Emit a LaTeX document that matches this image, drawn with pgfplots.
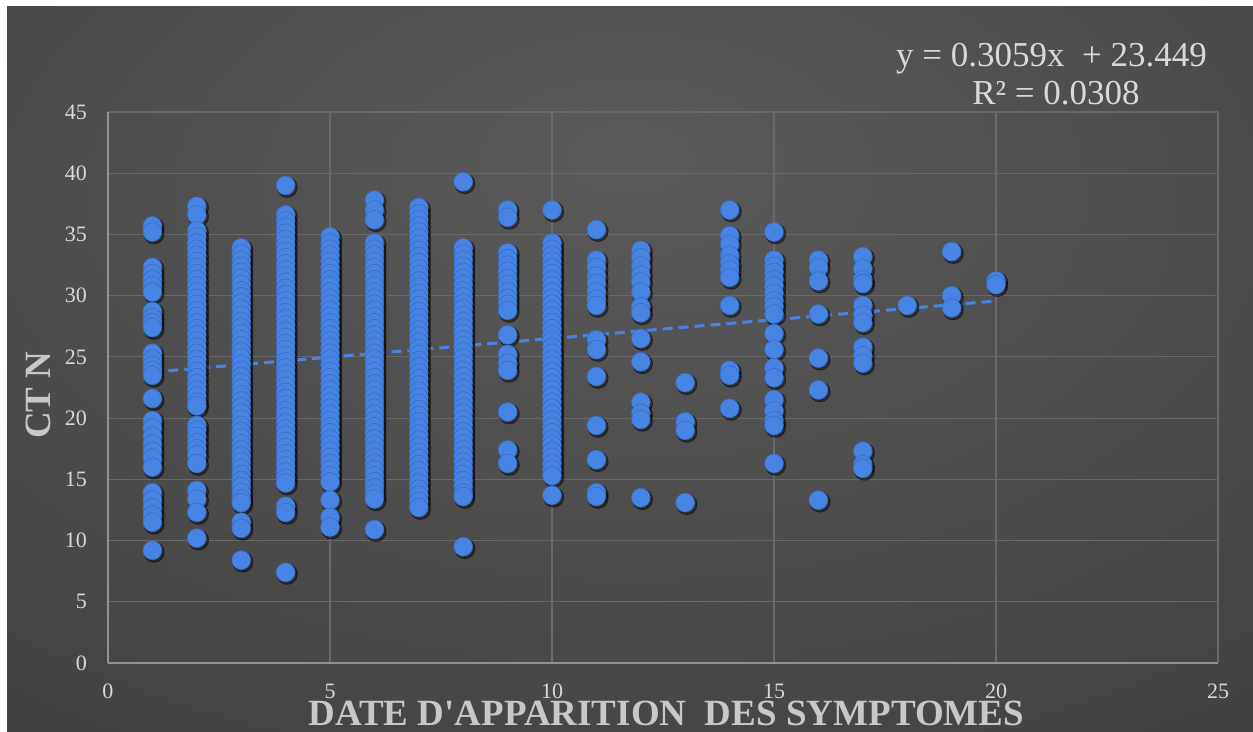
\documentclass[border=0pt]{standalone}
\usepackage{pgfplots}
\pgfplotsset{compat=1.18}
\usepackage{pgfplotstable}
\usepackage{fontspec}
\setmainfont{Liberation Serif}
\definecolor{ptblue}{RGB}{72,132,228}
\definecolor{ptedge}{RGB}{58,108,192}
\definecolor{bgin}{RGB}{90,90,90}
\definecolor{bgmid}{RGB}{70,70,70}
\definecolor{bgout}{RGB}{46,46,46}
\definecolor{bgcorner}{RGB}{33,33,33}
\definecolor{gridgray}{RGB}{105,105,105}
\definecolor{axisgray}{RGB}{145,145,145}
\definecolor{ticktext}{RGB}{217,217,217}
\definecolor{labtext}{RGB}{200,200,200}
\pgfdeclareradialshading{bgshade}{\pgfpoint{0bp}{15bp}}{color(0bp)=(bgin); color(35bp)=(bgmid); color(65bp)=(bgout); color(95bp)=(bgcorner)}

\pgfplotstableread[row sep=\\]{
x y\\
1 35.7\\ 1 35.2\\ 1 32.3\\ 1 31.8\\ 1 31.3\\ 1 30.8\\ 1 30.3\\ 1 28.7\\ 1 28.2\\ 1 27.8\\ 1 27.4\\
1 25.3\\ 1 24.8\\ 1 24.3\\ 1 23.9\\ 1 23.5\\ 1 21.6\\ 1 19.8\\ 1 19.2\\ 1 18.5\\ 1 17.9\\ 1 17.3\\
1 16.7\\ 1 16.0\\ 1 13.9\\ 1 13.3\\ 1 12.7\\ 1 12.1\\ 1 11.5\\ 1 9.2\\
2 37.3\\ 2 36.6\\ 2 35.3\\ 2 34.8\\ 2 34.3\\ 2 33.8\\ 2 33.3\\ 2 32.8\\ 2 32.3\\ 2 31.8\\ 2 31.3\\
2 30.8\\ 2 30.3\\ 2 29.8\\ 2 29.3\\ 2 28.8\\ 2 28.3\\ 2 27.8\\ 2 27.3\\ 2 26.8\\ 2 26.3\\ 2 25.8\\
2 25.3\\ 2 24.8\\ 2 24.3\\ 2 23.8\\ 2 23.3\\ 2 22.8\\ 2 22.3\\ 2 21.8\\ 2 21.3\\ 2 21.0\\
2 19.4\\ 2 19.0\\ 2 18.5\\ 2 18.0\\ 2 17.5\\ 2 17.0\\ 2 16.3\\ 2 14.1\\ 2 13.4\\ 2 12.3\\ 2 10.2\\
3 33.9\\ 3 33.4\\ 3 32.9\\ 3 32.4\\ 3 31.9\\ 3 31.4\\ 3 30.9\\ 3 30.4\\ 3 29.9\\ 3 29.4\\ 3 28.9\\
3 28.4\\ 3 27.9\\ 3 27.4\\ 3 26.9\\ 3 26.4\\ 3 25.9\\ 3 25.4\\ 3 24.9\\ 3 24.4\\ 3 23.9\\ 3 23.4\\
3 22.9\\ 3 22.4\\ 3 21.9\\ 3 21.4\\ 3 20.9\\ 3 20.4\\ 3 19.9\\ 3 19.4\\ 3 18.9\\ 3 18.4\\ 3 17.9\\
3 17.4\\ 3 16.9\\ 3 16.4\\ 3 15.9\\ 3 15.4\\ 3 14.9\\ 3 14.4\\ 3 13.9\\ 3 13.4\\ 3 13.1\\
3 11.5\\ 3 11.0\\ 3 8.4\\
4 39.0\\ 4 36.6\\ 4 36.1\\ 4 35.6\\ 4 35.1\\ 4 34.6\\ 4 34.1\\ 4 33.6\\ 4 33.1\\ 4 32.6\\ 4 32.1\\
4 31.6\\ 4 31.1\\ 4 30.6\\ 4 30.1\\ 4 29.6\\ 4 29.1\\ 4 28.6\\ 4 28.1\\ 4 27.6\\ 4 27.1\\ 4 26.6\\
4 26.1\\ 4 25.6\\ 4 25.1\\ 4 24.6\\ 4 24.1\\ 4 23.6\\ 4 23.1\\ 4 22.6\\ 4 22.1\\ 4 21.6\\ 4 21.1\\
4 20.6\\ 4 20.1\\ 4 19.6\\ 4 19.1\\ 4 18.6\\ 4 18.1\\ 4 17.6\\ 4 17.1\\ 4 16.6\\ 4 16.1\\ 4 15.6\\
4 15.1\\ 4 14.7\\ 4 12.8\\ 4 12.3\\ 4 7.4\\
5 34.8\\ 5 34.3\\ 5 33.8\\ 5 33.3\\ 5 32.8\\ 5 32.3\\ 5 31.8\\ 5 31.3\\ 5 30.8\\ 5 30.3\\ 5 29.8\\
5 29.3\\ 5 28.8\\ 5 28.3\\ 5 27.8\\ 5 27.3\\ 5 26.8\\ 5 26.3\\ 5 25.8\\ 5 25.3\\ 5 24.8\\ 5 24.3\\
5 23.8\\ 5 23.3\\ 5 22.8\\ 5 22.3\\ 5 21.8\\ 5 21.3\\ 5 20.8\\ 5 20.3\\ 5 19.8\\ 5 19.3\\ 5 18.8\\
5 18.3\\ 5 17.8\\ 5 17.3\\ 5 16.8\\ 5 16.3\\ 5 15.8\\ 5 15.3\\ 5 14.8\\ 5 13.3\\ 5 11.9\\ 5 11.1\\
6 37.8\\ 6 37.0\\ 6 36.2\\ 6 34.3\\ 6 33.8\\ 6 33.3\\ 6 32.8\\ 6 32.3\\ 6 31.8\\ 6 31.3\\ 6 30.8\\
6 30.3\\ 6 29.8\\ 6 29.3\\ 6 28.8\\ 6 28.3\\ 6 27.8\\ 6 27.3\\ 6 26.8\\ 6 26.3\\ 6 25.8\\ 6 25.3\\
6 24.8\\ 6 24.3\\ 6 23.8\\ 6 23.3\\ 6 22.8\\ 6 22.3\\ 6 21.8\\ 6 21.3\\ 6 20.8\\ 6 20.3\\ 6 19.8\\
6 19.3\\ 6 18.8\\ 6 18.3\\ 6 17.8\\ 6 17.3\\ 6 16.8\\ 6 16.3\\ 6 15.8\\ 6 15.3\\ 6 14.8\\ 6 14.3\\
6 13.8\\ 6 13.4\\ 6 10.9\\
7 37.2\\ 7 36.7\\ 7 36.2\\ 7 35.7\\ 7 35.2\\ 7 34.7\\ 7 34.2\\ 7 33.7\\ 7 33.2\\ 7 32.7\\ 7 32.2\\
7 31.7\\ 7 31.2\\ 7 30.7\\ 7 30.2\\ 7 29.7\\ 7 29.2\\ 7 28.7\\ 7 28.2\\ 7 27.7\\ 7 27.2\\ 7 26.7\\
7 26.2\\ 7 25.7\\ 7 25.2\\ 7 24.7\\ 7 24.2\\ 7 23.7\\ 7 23.2\\ 7 22.7\\ 7 22.2\\ 7 21.7\\ 7 21.2\\
7 20.7\\ 7 20.2\\ 7 19.7\\ 7 19.2\\ 7 18.7\\ 7 18.2\\ 7 17.7\\ 7 17.2\\ 7 16.7\\ 7 16.2\\ 7 15.7\\
7 15.2\\ 7 14.7\\ 7 14.2\\ 7 13.7\\ 7 13.2\\ 7 12.7\\
8 39.3\\ 8 33.9\\ 8 33.4\\ 8 32.9\\ 8 32.4\\ 8 31.9\\ 8 31.4\\ 8 30.9\\ 8 30.4\\ 8 29.9\\ 8 29.4\\
8 28.9\\ 8 28.4\\ 8 27.9\\ 8 27.4\\ 8 26.9\\ 8 26.4\\ 8 25.9\\ 8 25.4\\ 8 24.9\\ 8 24.4\\ 8 23.9\\
8 23.4\\ 8 22.9\\ 8 22.4\\ 8 21.9\\ 8 21.4\\ 8 20.9\\ 8 20.4\\ 8 19.9\\ 8 19.4\\ 8 18.9\\ 8 18.4\\
8 17.9\\ 8 17.4\\ 8 16.9\\ 8 16.4\\ 8 15.9\\ 8 15.4\\ 8 14.9\\ 8 14.4\\ 8 13.9\\ 8 13.6\\ 8 9.5\\
9 37.0\\ 9 36.4\\ 9 33.5\\ 9 33.0\\ 9 32.5\\ 9 32.0\\ 9 31.4\\ 9 30.9\\ 9 30.3\\ 9 29.8\\ 9 29.3\\
9 28.8\\ 9 26.8\\ 9 25.2\\ 9 24.5\\ 9 23.9\\ 9 20.5\\ 9 17.4\\ 9 16.3\\
10 37.0\\ 10 34.3\\ 10 33.8\\ 10 33.3\\ 10 32.8\\ 10 32.3\\ 10 31.8\\ 10 31.3\\ 10 30.8\\ 10 30.3\\
10 29.8\\ 10 29.3\\ 10 28.8\\ 10 28.3\\ 10 27.8\\ 10 27.3\\ 10 26.8\\ 10 26.3\\ 10 25.8\\ 10 25.3\\
10 24.8\\ 10 24.3\\ 10 23.8\\ 10 23.3\\ 10 22.8\\ 10 22.3\\ 10 21.8\\ 10 21.3\\ 10 20.8\\ 10 20.3\\
10 19.8\\ 10 19.3\\ 10 18.8\\ 10 18.3\\ 10 17.8\\ 10 17.3\\ 10 16.8\\ 10 16.3\\ 10 15.8\\ 10 15.3\\
10 13.7\\
11 35.4\\ 11 32.9\\ 11 32.3\\ 11 31.6\\ 11 31.0\\ 11 30.3\\ 11 29.7\\ 11 29.2\\ 11 26.4\\ 11 25.6\\
11 23.4\\ 11 19.4\\ 11 16.6\\ 11 13.9\\ 11 13.6\\
12 33.7\\ 12 33.1\\ 12 32.4\\ 12 31.7\\ 12 31.1\\ 12 30.3\\ 12 29.1\\ 12 28.6\\ 12 26.5\\ 12 24.6\\
12 21.3\\ 12 20.4\\ 12 19.9\\ 12 13.5\\
13 22.9\\ 13 19.7\\ 13 19.0\\ 13 13.1\\
14 37.0\\ 14 34.9\\ 14 34.2\\ 14 33.3\\ 14 32.6\\ 14 32.1\\ 14 31.5\\ 14 29.2\\ 14 23.9\\ 14 23.5\\ 14 20.8\\
15 35.2\\ 15 32.9\\ 15 32.4\\ 15 31.9\\ 15 31.3\\ 15 30.8\\ 15 30.2\\ 15 29.6\\ 15 29.1\\ 15 28.5\\
15 26.9\\ 15 25.6\\ 15 24.1\\ 15 23.3\\ 15 21.5\\ 15 20.6\\ 15 19.8\\ 15 19.4\\ 15 16.3\\
16 32.9\\ 16 32.3\\ 16 31.2\\ 16 28.5\\ 16 24.9\\ 16 22.3\\ 16 13.3\\
17 33.2\\ 17 32.2\\ 17 31.3\\ 17 31.0\\ 17 29.2\\ 17 28.4\\ 17 27.8\\ 17 25.8\\ 17 25.1\\ 17 24.5\\
17 17.3\\ 17 16.2\\ 17 15.9\\
18 29.2\\
19 33.6\\ 19 30.0\\ 19 29.0\\
20 31.2\\ 20 30.9\\
}\ctdata

\begin{document}
\begin{tikzpicture}
\useasboundingbox (0pt,0pt) rectangle (626.5pt,366pt);
\fill[white] (0pt,0pt) rectangle (626.5pt,366pt);
\shade[shading=bgshade] (3.5pt,0pt) rectangle (626.5pt,362.5pt);
\begin{axis}[
  at={(54pt,34.5pt)}, anchor=south west,
  scale only axis, width=555pt, height=275.5pt,
  xmin=0, xmax=25, ymin=0, ymax=45,
  xtick={0,5,...,25}, ytick={0,5,...,45},
  grid=major,
  major grid style={draw=gridgray, line width=0.6pt},
  axis x line=bottom, axis y line=left,
  axis line style={draw=axisgray, line width=1pt, -},
  major tick length=0pt,
  /pgf/number format/assume math mode=true,
  tick label style={font=\fontsize{11pt}{13pt}\selectfont, text=ticktext},
  xticklabel style={yshift=-7pt},
  yticklabel style={xshift=-7pt},
  xlabel={DATE D\textquotesingle APPARITION\ \ DES SYMPTOMES},
  ylabel={CT N},
  label style={font=\bfseries\fontsize{18.5pt}{20pt}\selectfont, text=labtext},
  xlabel style={at={([yshift=-31.5pt]axis description cs:0.503,0)}, anchor=base},
  ylabel style={at={([xshift=-29pt]axis description cs:0,0.486)}, anchor=base, rotate=0},
  clip=false,
]
\addplot[only marks, mark=*, mark size=5.1pt,
  mark options={fill=black, draw=none, opacity=0.45, xshift=0.8pt, yshift=-0.9pt}]
  table[x=x, y=y] {\ctdata};
\addplot[only marks, mark=*, mark size=4.7pt,
  mark options={fill=ptblue, draw=ptedge, line width=0.3pt}]
  table[x=x, y=y] {\ctdata};
\addplot[ptblue, line width=1.5pt, dash pattern=on 5pt off 3pt] coordinates {(1,23.755) (20,29.567)};
\node[anchor=base, font=\fontsize{17.5pt}{20pt}\selectfont, text=ticktext] at (axis cs:21.25,48.68) {y = 0.3059x\ \ + 23.449};
\node[anchor=base, font=\fontsize{17.5pt}{20pt}\selectfont, text=ticktext] at (axis cs:21.35,45.58) {R² = 0.0308};
\end{axis}
\end{tikzpicture}
\end{document}
